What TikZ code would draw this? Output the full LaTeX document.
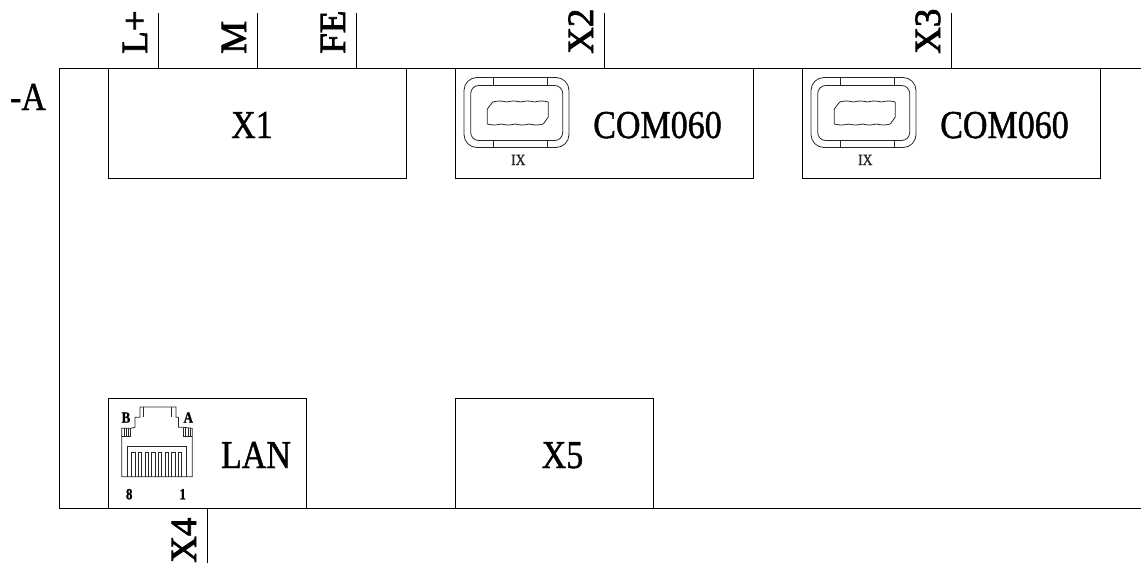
\documentclass[tikz,border=0pt]{standalone}
\usepackage{fontspec}
\setmainfont{Liberation Serif}[RawFeature={embolden=1.2}]
\newfontfamily\pinfont{Liberation Serif}[RawFeature={embolden=2}]
\tikzset{
  line/.style={line width=1pt,black},
  thinline/.style={line width=0.8pt,black!85},
  modbox/.style={draw,line width=1pt,black,anchor=north west,inner sep=0pt,outer sep=0pt},
  label/.style={inner sep=0pt,anchor=base,font=\fontsize{34}{34}\selectfont,yscale=1.16},
  pinlabel/.style={inner sep=0pt,font=\pinfont\fontsize{37}{37}\selectfont,rotate=90,anchor=base west},
  tinylabel/.style={inner sep=0pt,anchor=base,font=\fontsize{13.5}{13.5}\selectfont,yscale=1.15},
  jacklabel/.style={inner sep=0pt,anchor=base,font=\bfseries\fontsize{13}{13}\selectfont,yscale=1.2}
}
\newcommand{\comport}[2]{%
  % Connector shell at offset (#1,#2)
  \begin{scope}[shift={(#1,#2)},thinline]
    \draw[rounded corners=13pt] (0,0.5) rectangle (105,70.5);
    \draw[rounded corners=8pt] (6.7,8.5) rectangle (98.7,63.5);
    \draw (29.7,0.5) -- (29.7,8.5) (83.3,0.5) -- (83.3,8.5);
    \draw (29.7,63.5) -- (29.7,70.5) (83.3,63.5) -- (83.3,70.5);
    % Socket
    \draw (28.7,25) -- (23.3,32) -- (23.3,47);
    \draw (84.3,25) -- (84.3,40) -- (79.3,47);
    \foreach \sx in {0,1,2,3}{
      \draw (28.7+13.9*\sx,25) to[bend left=14] (42.6+13.9*\sx,25);
      \draw (23.3+14*\sx,47) to[bend right=14] (37.3+14*\sx,47);
    }
    \node[tinylabel] at (54.3,88) {IX};
  \end{scope}}
\begin{document}
\begin{tikzpicture}[x=1pt,y=-1pt]
  \useasboundingbox (0,0) rectangle (1141,568);

  % Outer frame
  \draw[line] (59,508.5) -- (59,68.5) -- (1141,68.5);
  \draw[line] (59,508.5) -- (1141,508.5);

  % Modules
  \node[modbox,minimum width=298pt,minimum height=110pt] (xone) at (108,68.5) {};
  \node[modbox,minimum width=298pt,minimum height=110pt] (xtwo) at (455,68.5) {};
  \node[modbox,minimum width=298pt,minimum height=110pt] (xthree) at (802,68.5) {};
  \node[modbox,minimum width=198.5pt,minimum height=110pt] (xfour) at (108,398.5) {};
  \node[modbox,minimum width=198.5pt,minimum height=110pt] (xfive) at (455,398.5) {};

  \node[label] (xonetext) at (252,138) {X1};
  \node[label] (xfivetext) at (562.5,468) {X5};
  \node[label] (coma) at (657.5,138) {COM060};
  \node[label] (comb) at (1004.5,138) {COM060};
  \node[label] (lan) at (256,468) {LAN};
  \node[label] (tag) at (28,110) {-A};

  \comport{464}{77}
  \comport{811}{77}

  % Terminal stubs
  \foreach \px/\pname/\ptext in {158/lp/L+,257/m/M,356/fe/FE,604/xb/X2,951/xc/X3}{
    \coordinate (\pname top) at (\px,13);
    \coordinate (\pname bot) at (\px,68.5);
    \draw[line] (\pname top) -- (\pname bot);
    \node[pinlabel] at (\px-11,54) {\ptext};
  }
  \coordinate (xdtop) at (207,508.5);
  \coordinate (xdbot) at (207,563);
  \draw[line] (xdtop) -- (xdbot);
  \node[pinlabel] at (196,563) {X4};

  % LAN jack
  \begin{scope}[thinline]
    \draw (121.7,476.7) -- (121.7,428.3) -- (130.7,428.3) -- (135,427.3) -- (135,417.3) -- (140,417.3)
      -- (140,407) -- (176,407) -- (176,417.3) -- (178.5,417.3) -- (178.5,427.3) -- (183.3,427.3)
      -- (192.3,428.3) -- (192.3,476.7) -- cycle;
    \draw (143.3,407) -- (143.3,417.3) (171,407) -- (171,417.3);
    \draw (121.7,436.7) -- (130.7,436.7) -- (130.7,428.3);
    \draw (183.3,428.3) -- (183.3,436.7) -- (192.3,436.7);
    \foreach \bx in {124,126.5,128.5,185.5,188,190}
      \draw (\bx,428.3) -- (\bx,436.7);
    \draw (127.7,476.7) -- (127.7,446.7) -- (186.7,446.7) -- (186.7,476.7);
    \foreach \pinx in {0,...,7}{
      \draw (131.7+6.67*\pinx,476.7) -- (131.7+6.67*\pinx,452.3) -- (135+6.67*\pinx,452.3) -- (135+6.67*\pinx,476.7);
    }
  \end{scope}
  \node[jacklabel] (jackb) at (126,422.7) {B};
  \node[jacklabel] (jacka) at (188.3,422.7) {A};
  \node[jacklabel] (jackeight) at (129.2,499.3) {8};
  \node[jacklabel] (jackone) at (182.7,499.3) {1};
\end{tikzpicture}
\end{document}
